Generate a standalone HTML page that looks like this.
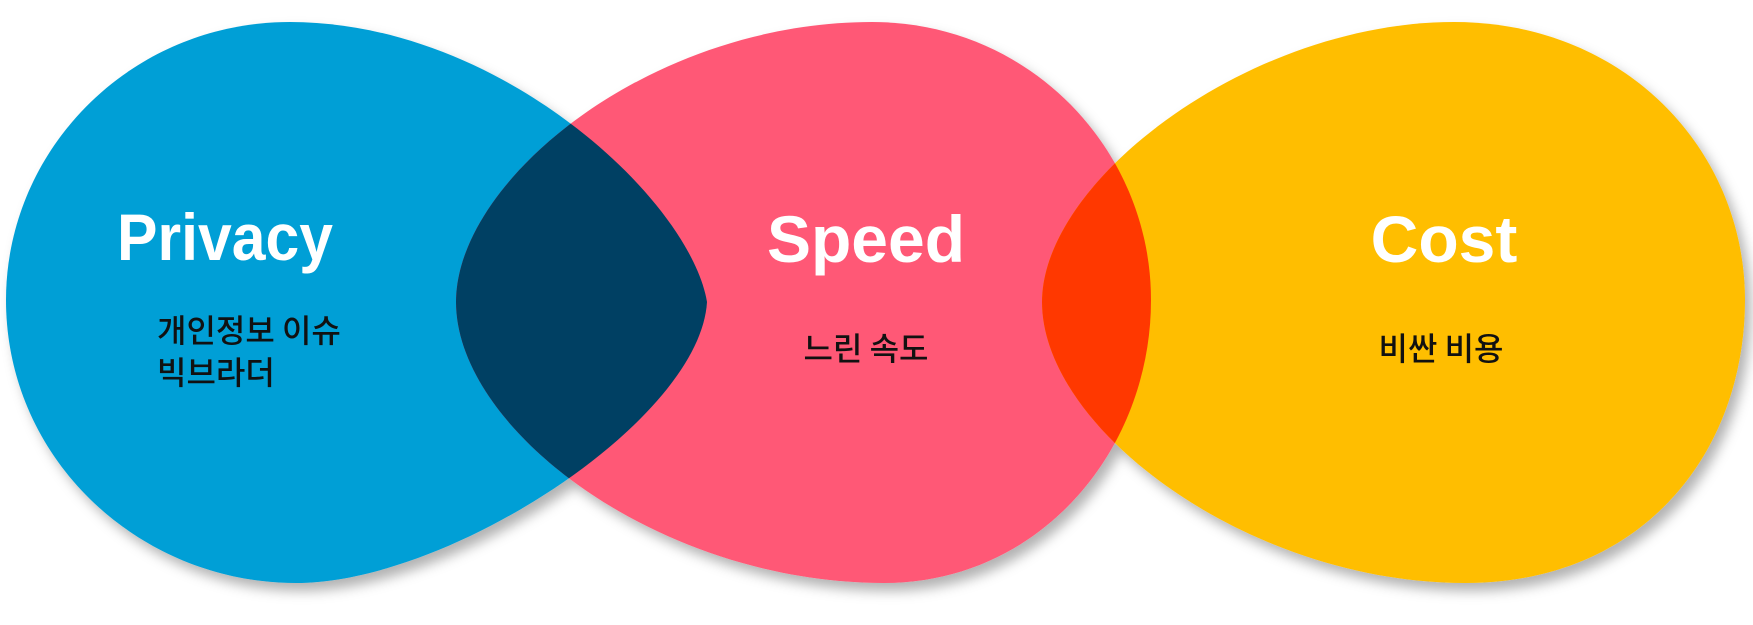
<!DOCTYPE html>
<html><head><meta charset="utf-8"><style>
html,body{margin:0;padding:0;background:#fff;}
svg{display:block;}
</style></head><body>
<svg width="1753" height="625" viewBox="0 0 1753 625" xmlns="http://www.w3.org/2000/svg">
<defs>
<path id="b" d="M290 22 C130 22 6 150 6 300 C6 460 140 583 296 583 C450 583 700 420 707 302 C690 200 500 22 290 22 Z"/>
<path id="p" d="M872 22 C650 22 456 180 456 302 C456 430 660 583 884 583 C1040 583 1151 450 1151 300 C1151 150 1030 22 872 22 Z"/>
<path id="o" d="M1454 22 C1250 22 1042 180 1042 302 C1042 430 1250 583 1465 583 C1645 583 1745 450 1745 300 C1745 150 1625 22 1454 22 Z"/>
<clipPath id="cb"><use href="#b"/></clipPath>
<clipPath id="cp"><use href="#p"/></clipPath>
<filter id="sh" x="-10%" y="-10%" width="120%" height="130%"><feDropShadow dx="6" dy="8" stdDeviation="6" flood-color="#000" flood-opacity="0.3"/></filter>
</defs>
<g filter="url(#sh)">
<use href="#b" fill="#009fd6"/>
<use href="#p" fill="#ff5876"/>
<use href="#o" fill="#ffbe00"/>
<use href="#p" fill="#003f63" clip-path="url(#cb)"/>
<use href="#o" fill="#ff3800" clip-path="url(#cp)"/>
</g>
<g font-family="Liberation Sans, sans-serif" font-weight="bold" fill="#fff" font-size="66">
<text x="117" y="260" textLength="216" lengthAdjust="spacingAndGlyphs">Privacy</text>
<text x="866" y="262" text-anchor="middle">Speed</text>
<text x="1444" y="262" text-anchor="middle">Cost</text>
</g>
<g font-family="'Noto Sans CJK KR', sans-serif" fill="#111" font-size="32" font-weight="500">
<text x="157" y="342">개인정보 이슈</text>
<text x="157" y="384">빅브라더</text>
<text x="866" y="360" text-anchor="middle">느린 속도</text>
<text x="1441" y="360" text-anchor="middle">비싼 비용</text>
</g>
</svg>
</body></html>
